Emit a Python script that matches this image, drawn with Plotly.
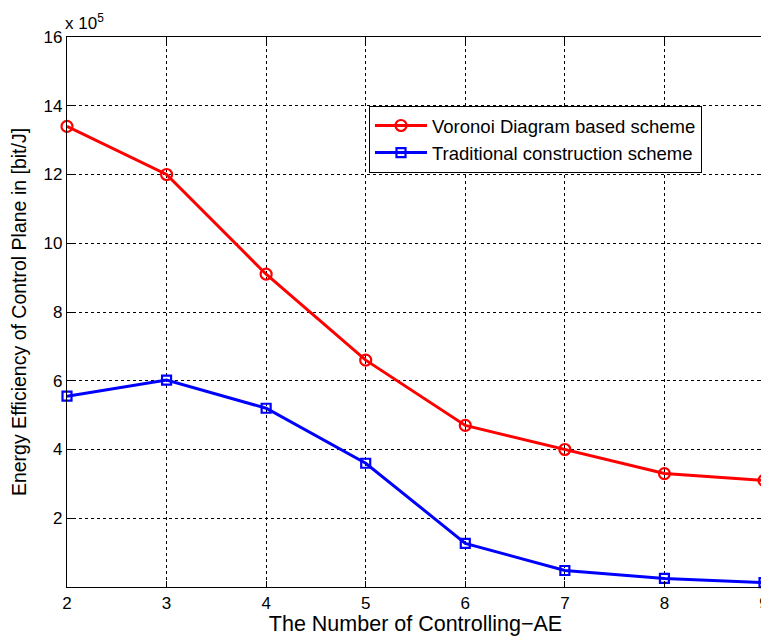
import plotly.graph_objects as go

x_ae = [2, 3, 4, 5, 6, 7, 8, 9]
voronoi = [13.4, 12.0, 9.1, 6.6, 4.7, 4.0, 3.3, 3.1]
traditional = [5.55, 6.02, 5.2, 3.6, 1.27, 0.48, 0.25, 0.13]
y_ticks = [2, 4, 6, 8, 10, 12, 14, 16]
x_ticks = [2, 3, 4, 5, 6, 7, 8, 9]

FONT = "Liberation Sans, Arial, Helvetica, sans-serif"

fig = go.Figure()
fig.add_trace(go.Scatter(
    x=x_ae, y=voronoi, mode="lines+markers",
    name="Voronoi Diagram based scheme",
    line=dict(color="#ff0000", width=3),
    marker=dict(symbol="circle-open", size=11, color="#ff0000", line=dict(width=2.2, color="#ff0000")),
    cliponaxis=False,
))
fig.add_trace(go.Scatter(
    x=x_ae, y=traditional, mode="lines+markers",
    name="Traditional construction scheme",
    line=dict(color="#0000ff", width=3),
    marker=dict(symbol="square-open", size=9, color="#0000ff", line=dict(width=2.2, color="#0000ff")),
    cliponaxis=False,
))

axis_common = dict(
    showline=True, linecolor="black", linewidth=1.2, mirror="ticks",
    ticks="inside", ticklen=6, tickcolor="black", tickwidth=1,
    showgrid=True, gridcolor="black", gridwidth=1, griddash="dot",
    zeroline=False, automargin=False,
    tickfont=dict(family=FONT, size=17, color="black"),
)

fig.update_xaxes(
    range=[2, 9], tickvals=x_ticks, ticktext=[str(v) for v in x_ticks],
    title=dict(text="The Number of Controlling\u2212AE", font=dict(family=FONT, size=21.5, color="black"), standoff=2),
    **axis_common,
)
fig.update_yaxes(
    range=[0, 16], tickvals=y_ticks, ticktext=[str(v) for v in y_ticks],
    title=dict(text="Energy Efficiency of Control Plane in [bit/J]", font=dict(family=FONT, size=19.5, color="black"), standoff=14),
    **axis_common,
)

fig.add_annotation(
    xref="paper", yref="paper", x=0, y=1, xanchor="left", yanchor="bottom",
    text="x 10<sup>5</sup>", showarrow=False, yshift=2, xshift=-4,
    font=dict(family=FONT, size=17, color="black"),
)

# the page body has an 8px default margin, so the figure is shrunk by 8px
fig.update_layout(
    width=761, height=631,
    margin=dict(l=59, r=5, t=29, b=52, autoexpand=False),
    plot_bgcolor="white", paper_bgcolor="white",
    font=dict(family=FONT, size=17, color="black"),
    showlegend=True,
    legend=dict(
        x=0.433, y=0.875, xanchor="left", yanchor="top",
        bgcolor="white", bordercolor="black", borderwidth=1.2,
        font=dict(family=FONT, size=18.5, color="black"),
        tracegroupgap=0, itemwidth=52,
    ),
)

fig.write_html("out.html")
